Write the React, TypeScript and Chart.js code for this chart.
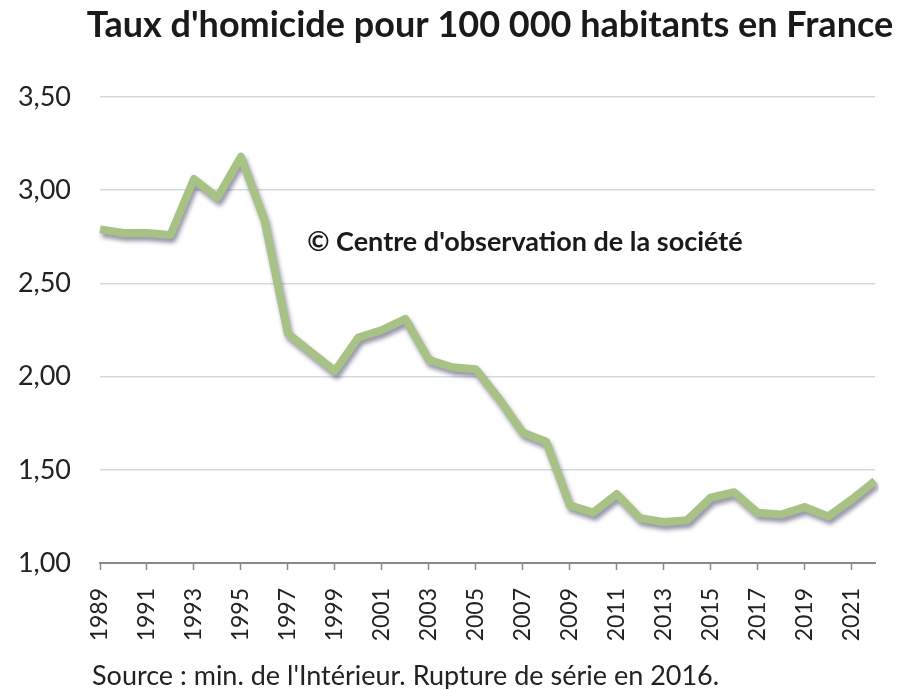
import React, { useEffect, useRef } from "react";
import { Chart, registerables } from "chart.js";

Chart.register(...registerables);

const years: string[] = [
  "1989","1990","1991","1992","1993","1994","1995","1996","1997","1998",
  "1999","2000","2001","2002","2003","2004","2005","2006","2007","2008",
  "2009","2010","2011","2012","2013","2014","2015","2016","2017","2018",
  "2019","2020","2021","2022",
];

const homicideRate: number[] = [
  2.79, 2.77, 2.77, 2.76, 3.06, 2.96, 3.18, 2.84, 2.23, 2.13,
  2.03, 2.21, 2.25, 2.31, 2.09, 2.05, 2.04, 1.88, 1.70, 1.65,
  1.31, 1.27, 1.37, 1.24, 1.22, 1.23, 1.35, 1.38, 1.27, 1.26,
  1.30, 1.25, 1.34, 1.44,
];

const titleText = "Taux d'homicide pour 100 000 habitants en France";
const watermarkText = "© Centre d'observation de la société";
const sourceText = "Source : min. de l'Intérieur. Rupture de série en 2016.";

const W = 898;
const H = 689;

const textPlugin = {
  id: "texts",
  beforeDatasetsDraw(chart: any) {
    const ctx = chart.ctx;
    ctx.save();
    ctx.shadowColor = "rgba(80,80,110,0.6)";
    ctx.shadowOffsetX = 2;
    ctx.shadowOffsetY = 4;
    ctx.shadowBlur = 4;
  },
  afterDatasetsDraw(chart: any) {
    chart.ctx.restore();
  },
  afterDraw(chart: any) {
    const ctx = chart.ctx;
    ctx.save();
    ctx.fillStyle = "#1a1a1a";
    ctx.textBaseline = "alphabetic";
    ctx.textAlign = "center";
    ctx.font = "bold 36px Lato";
    ctx.fillText(titleText, 490, 37);
    ctx.font = "bold 27px Lato";
    ctx.fillText(watermarkText, 525, 251);
    ctx.textAlign = "left";
    ctx.font = "27px Lato";
    ctx.fillStyle = "#222";
    ctx.fillText(sourceText, 92, 685);
    ctx.restore();
  },
};

export default function App() {
  const ref = useRef<HTMLCanvasElement | null>(null);
  useEffect(() => {
    if (!ref.current) return;
    const chart = new Chart(ref.current, {
      type: "line",
      data: {
        labels: years,
        datasets: [
          {
            data: homicideRate,
            borderColor: "#a8c285",
            borderWidth: 8,
            pointRadius: 0,
            tension: 0,
            borderJoinStyle: "round",
            borderCapStyle: "butt",
            fill: false,
          },
        ],
      },
      options: {
        animation: false,
        responsive: false,
        devicePixelRatio: 1,
        layout: { padding: { top: 97, right: 23, left: 0, bottom: 0 } },
        plugins: {
          legend: { display: false },
          tooltip: { enabled: false },
          title: { display: false },
        },
        scales: {
          x: {
            type: "category",
            offset: false,
            afterFit(scale: any) {
              scale.height = 126;
              scale.paddingLeft = 0;
              scale.paddingRight = 0;
            },
            border: { display: true, color: "#8a8a8a", width: 2 },
            grid: {
              display: true,
              drawOnChartArea: false,
              drawTicks: true,
              tickLength: 7,
              tickWidth: 1.5,
              tickColor: (c: any) => (c.index % 2 === 0 ? "#8a8a8a" : "rgba(0,0,0,0)"),
            },
            ticks: {
              autoSkip: false,
              minRotation: 90,
              maxRotation: 90,
              padding: 18,
              color: "#222",
              font: { family: "Lato", size: 23 },
              callback: (_v: any, i: number) => (i % 2 === 0 ? years[i] : ""),
            },
          },
          y: {
            min: 1,
            max: 3.5,
            afterFit(scale: any) {
              scale.width = 100;
            },
            border: { display: false },
            grid: {
              color: "#d3d9e3",
              lineWidth: 1.5,
              drawTicks: false,
            },
            ticks: {
              stepSize: 0.5,
              padding: 29,
              color: "#222",
              font: { family: "Lato", size: 27 },
              callback: (v: any) => Number(v).toFixed(2).replace(".", ","),
            },
          },
        },
      },
      plugins: [textPlugin],
    });
    return () => chart.destroy();
  }, []);
  return (
    <div style={{ position: "fixed", left: 0, top: 0, width: W, height: H, background: "#fff" }}>
      <canvas ref={ref} width={W} height={H} style={{ width: W, height: H, display: "block" }} />
    </div>
  );
}
